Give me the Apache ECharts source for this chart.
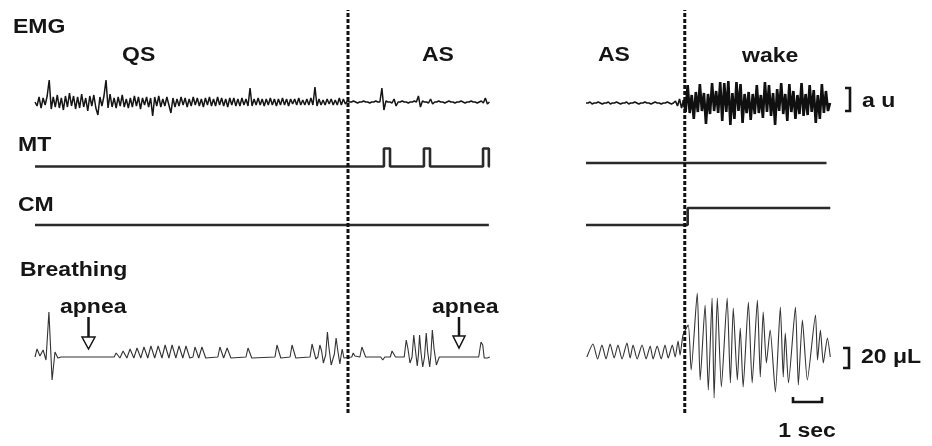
<!DOCTYPE html>
<html><head><meta charset="utf-8">
<script src="https://cdn.jsdelivr.net/npm/echarts@6/dist/echarts.min.js"></script>
<style>html,body{margin:0;padding:0;background:#fff}#c{width:932px;height:446px}</style>
</head><body><div id="c"></div>
<script>
// ---- data (time in s, EMG in a.u. x20, MT/CM in arbitrary units, breathing in µL) ----
const channelNames = ['EMG', 'MT', 'CM', 'Breathing'];
const stateLabels = ['QS', 'AS', 'AS', 'wake'];
const transitions = [10.8, 3.40];          // dashed state-change lines (left, right panel)
const EMG_DT = 0.07;
const WAKE_START = 48;                      // sample index where wake EMG begins (right panel)
const emgQSAS = [
 0,-4,5,-6,4,-3,6,22,-7,5,-5,7,-6,4,-8,6,-5,9,-4,6,
 -7,5,-6,8,-5,4,-9,6,-4,7,-6,-13,5,-4,6,22,-6,8,-5,4,
 -6,5,-4,7,-5,3,-6,4,-5,6,-4,5,-7,4,-3,5,-5,4,-14,5,
 -4,6,-5,3,-4,5,-3,-11,4,-5,3,-4,5,-3,4,-5,3,-4,5,-3,
 4,-4,3,-5,4,-3,5,-4,3,-4,5,-3,4,-4,3,-5,4,-3,4,-4,
 3,-4,4,-3,3,-4,14,-4,3,-3,4,-3,3,-4,3,-3,4,-3,3,-4,
 3,-3,4,-3,3,-4,3,-2,3,-3,4,-3,2,-3,3,-3,4,-3,15,-4,
 3,-3,2,-3,3,-2,3,-3,2,-3,4,-3,3,-2,1,0,0,1,0,-1,
 0,0,1,0,0,-1,0,0,1,0,0,14,-8,1,0,0,-1,3,-4,0,
 0,1,0,0,-1,0,0,1,0,6,-5,1,0,0,-1,3,-2,0,0,1,
 0,0,-1,0,1,0,0,-1,0,0,1,0,-1,0,0,1,0,0,-1,0,
 1,-1,4,-2,0
];
const emgASWake = [
 0,0,1,-1,0,0,1,0,-1,0,0,1,-1,0,0,1,0,-1,0,0,
 1,-1,0,0,1,0,-1,0,0,1,0,0,-1,0,1,0,0,-1,0,0,
 1,0,-1,0,2,-3,4,-5,3,-9,18,-10,8,-16,11,-9,19,-8,10,-21,
 9,-11,20,-8,12,-10,21,-18,20,-9,22,-22,10,-16,21,-8,19,-20,9,-10,
 11,-17,9,-11,18,-10,8,-15,21,-9,18,-13,10,-22,14,-8,20,-11,9,-18,
 19,-9,12,-16,8,-11,20,-13,9,-12,18,-9,13,-20,8,-16,19,-10,12,-8,
 0
];
const mtLeft = [[0,0],[12.04,0],[12.04,18],[12.25,18],[12.25,0],[13.42,0],[13.42,18],[13.63,18],[13.63,0],
 [15.46,0],[15.46,18],[15.66,18],[15.66,0],[15.69,0]];
const mtRight = [[0,0],[8.28,0]];
const cmLeft = [[0,0],[15.66,0]];
const cmRight = [[0,0],[3.5,0],[3.5,17],[8.41,17]];
const breathLeft = [
 [0,0],[0.07,8],[0.17,1],[0.28,7],[0.38,-3],[0.48,45],[0.59,-23],[0.69,5],[0.79,-1],[0.9,0],[2.66,0],
 [2.73,0],[2.80,4],[2.86,3],[2.93,-1],
 [2.97,0],[3.04,6],[3.10,4],[3.17,-1],
 [3.21,0],[3.28,8],[3.34,6],[3.41,-1],
 [3.45,0],[3.52,9],[3.58,7],[3.65,-1],
 [3.69,0],[3.76,10],[3.82,8],[3.89,-1],
 [3.93,0],[4.00,11],[4.06,9],[4.13,-1],
 [4.18,0],[4.25,11],[4.31,9],[4.38,-1],
 [4.42,0],[4.49,12],[4.55,10],[4.62,-1],
 [4.66,0],[4.73,12],[4.79,10],[4.86,-1],
 [4.90,0],[4.97,11],[5.03,9],[5.10,-1],
 [5.14,0],[5.21,11],[5.27,9],[5.34,-1],
 [5.45,0],[5.52,10],[5.58,8],[5.65,-1],
 [5.69,0],[5.76,10],[5.82,8],[5.89,-1],
 [6.31,0],[6.38,10],[6.44,8],[6.51,-1],
 [6.56,0],[6.63,9],[6.69,7],[6.76,-1],
 [7.28,0],[7.35,9],[7.41,7],[7.48,-1],
 [8.28,0],[8.35,12],[8.41,10],[8.48,-1],
 [8.80,0],[8.87,12],[8.93,10],[9.00,-1],
 [9.49,0],[9.56,13],[9.62,11],[9.69,-2],
 [9.76,0],[9.83,12],[9.89,6],[9.95,-6],
 [10.03,2],[10.09,25],[10.14,10],[10.22,-8],
 [10.33,3],[10.39,19],[10.45,6],[10.52,-7],
 [10.56,1],[10.60,8],[10.66,-1],[10.72,0],
 [10.93,0],[10.98,4],[11.04,1],[11.10,0],
 [11.21,0],[11.28,10],[11.34,8],[11.41,0],
 [11.93,0],[12.0,-3],[12.07,0],
 [12.26,0],[12.32,6],[12.38,4],[12.44,0],
 [12.74,0],[12.81,17],[12.87,8],[12.94,-6],
 [13.01,0],[13.07,22],[13.13,6],[13.19,-9],
 [13.23,2],[13.27,22],[13.32,4],[13.38,-10],
 [13.44,0],[13.50,24],[13.55,5],[13.62,-10],
 [13.66,2],[13.71,27],[13.77,8],[13.85,-8],
 [13.95,0],[15.31,0],
 [15.35,0],[15.39,15],[15.45,12],[15.50,-1],
 [15.56,-3],[15.62,-1],[15.69,0]
];
const breathRight = [
 [0.03,0],[0.24,13],[0.40,-2],[0.55,12],[0.69,-2],[0.83,13],[0.97,-1],[1.10,12],[1.24,-2],[1.41,14],
 [1.52,-1],[1.62,12],[1.76,-2],[1.93,12],[2.07,-2],[2.21,11],[2.31,-2],[2.45,11],[2.59,-2],[2.72,12],
 [2.83,-1],[2.97,12],[3.07,0],[3.17,16],[3.24,2],[3.34,22],
 [3.52,32],[3.62,-13],[3.83,64],[3.93,-23],[4.10,52],[4.21,-33],[4.34,59],[4.41,-41],[4.52,59],[4.66,-30],
 [4.86,59],[4.97,-26],[5.07,49],[5.21,-23],[5.31,29],[5.41,-30],[5.59,55],[5.72,-26],[5.90,57],[6.00,-20],
 [6.10,45],[6.21,-6],[6.34,27],[6.52,-35],[6.69,50],[6.79,-20],[6.86,24],[6.97,-26],[7.21,50],[7.31,-28],
 [7.45,37],[7.62,-23],[7.90,42],[7.97,-3],[8.07,27],[8.17,-6],[8.31,19],[8.41,0]
];

// ---- layout ----
const L = {left: 35, width: 455, max: 15.7};
const R = {left: 586, width: 244, max: 8.4};
const grids = [], xAxes = [], yAxes = [], series = [];
function addGrid(panel, top, height, ymin, ymax) {
  const g = grids.length;
  grids.push({left: panel.left, width: panel.width, top: top, height: height});
  xAxes.push({type: 'value', gridIndex: g, min: 0, max: panel.max, show: false});
  yAxes.push({type: 'value', gridIndex: g, min: ymin, max: ymax, show: false});
  return g;
}
function addLine(g, data, lineStyle, smooth) {
  series.push({type: 'line', xAxisIndex: g, yAxisIndex: g, data: data, symbol: 'none',
    smooth: smooth || false, clip: false, silent: true, animation: false, lineStyle: lineStyle});
}
function addTrace(panel, top, height, ymin, ymax, data, lineStyle, smooth) {
  addLine(addGrid(panel, top, height, ymin, ymax), data, lineStyle, smooth);
}
const emgStyleL = {color: '#151515', width: 1.5};
const emgStyleAS = {color: '#151515', width: 1.6};
const emgStyleWake = {color: '#101010', width: 2.6};
const flatStyle = {color: '#2a2a2a', width: 2.6};
const brStyle = {color: '#333', width: 1.1};
const dashStyle = {color: '#111', width: 3, type: [4, 2]};

addTrace(L, 77, 50, -25, 25, emgQSAS.map((v, i) => [i * EMG_DT, v]), emgStyleL);
const emgR = emgASWake.map((v, i) => [i * EMG_DT, v]);
const gEmgR = addGrid(R, 78, 50, -25, 25);
addLine(gEmgR, emgR.slice(0, WAKE_START + 1), emgStyleAS);
addLine(gEmgR, emgR.slice(WAKE_START), emgStyleWake);
addTrace(L, 141.5, 30, -5, 25, mtLeft, flatStyle);
addTrace(R, 138, 30, -5, 25, mtRight, flatStyle);
addTrace(L, 205, 25, -5, 20, cmLeft, flatStyle);
addTrace(R, 205, 25, -5, 20, cmRight, flatStyle);
addTrace(L, 287, 120, -50, 70, breathLeft, brStyle);
addTrace(R, 287, 120, -50, 70, breathRight, brStyle, 0.2);
addTrace(L, 10, 403, 0, 1, [[transitions[0], 0], [transitions[0], 1]], dashStyle);
addTrace(R, 10, 403, 0, 1, [[transitions[1], 0], [transitions[1], 1]], dashStyle);

const FONT = '"Liberation Sans", Arial, Helvetica, sans-serif';
function txt(text, x, y, align) {
  return {type: 'text', x: x, y: y, scaleX: 1.15, silent: true,
    style: {text: text, fill: '#151515', fontSize: 20, fontWeight: 'bold', fontFamily: FONT,
      align: align || 'left', verticalAlign: 'middle'}};
}
const stroke = {stroke: '#151515', lineWidth: 2.6, fill: null};
const graphic = [
  txt(channelNames[0], 13, 27), txt(channelNames[1], 18, 145), txt(channelNames[2], 18, 205),
  txt(channelNames[3], 20, 270),
  txt(stateLabels[0], 122, 55), txt(stateLabels[1], 422, 55), txt(stateLabels[2], 598, 55),
  txt(stateLabels[3], 742, 56),
  txt('apnea', 60, 307), txt('apnea', 432, 307),
  txt('a u', 862, 101), txt('20 \u03bcL', 861, 357), txt('1 sec', 807, 431, 'center'),
  {type: 'polyline', silent: true, shape: {points: [[845, 88], [850, 88], [850, 111], [845, 111]]}, style: stroke},
  {type: 'polyline', silent: true, shape: {points: [[843, 348], [849, 348], [849, 368], [843, 368]]}, style: stroke},
  {type: 'polyline', silent: true, shape: {points: [[793, 397], [793, 402], [822, 402], [822, 397]]}, style: stroke},
  {type: 'line', silent: true, shape: {x1: 88.5, y1: 317, x2: 88.5, y2: 337}, style: {stroke: '#151515', lineWidth: 2.5}},
  {type: 'polygon', silent: true, shape: {points: [[82, 337], [95, 337], [88.5, 349]]}, style: {fill: '#fff', stroke: '#151515', lineWidth: 1.5}},
  {type: 'line', silent: true, shape: {x1: 459, y1: 317, x2: 459, y2: 336}, style: {stroke: '#151515', lineWidth: 2.5}},
  {type: 'polygon', silent: true, shape: {points: [[453, 336], [465, 336], [459, 348]]}, style: {fill: '#fff', stroke: '#151515', lineWidth: 1.5}}
];

const chart = echarts.init(document.getElementById('c'), null, {renderer: 'canvas'});
chart.setOption({
  animation: false,
  backgroundColor: '#fff',
  grid: grids, xAxis: xAxes, yAxis: yAxes, series: series,
  graphic: graphic
});
</script></body></html>
